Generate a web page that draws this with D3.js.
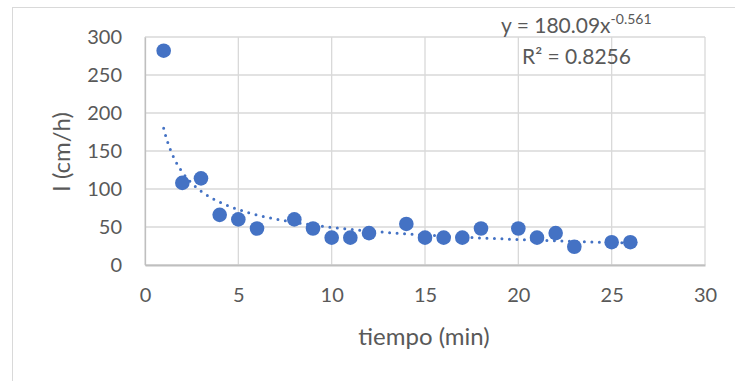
<html>
<head>
<meta charset="UTF-8">
<script src="https://d3js.org/d3.v7.min.js"></script>
<style>
  body { margin: 0; background: #fff; }
  text { font-family: Lato, "Open Sans", sans-serif; fill: #595959; }
</style>
</head>
<body>
<svg width="735" height="381"></svg>
<script>
// datos
var tiempo = [1, 2, 3, 4, 5, 6, 8, 9, 10, 11, 12, 14, 15, 16, 17, 18, 20, 21, 22, 23, 25, 26];
var infil  = [282, 108, 114, 66, 60, 48, 60, 48, 36, 36, 42, 54, 36, 36, 36, 48, 48, 36, 42, 24, 30, 30];
var xTicks = [0, 5, 10, 15, 20, 25, 30];
var yTicks = [0, 50, 100, 150, 200, 250, 300];
var coefA = 180.09, coefB = -0.561;

var svg = d3.select("svg");

// borde del área del gráfico
svg.append("rect")
  .attr("x", 12.5).attr("y", 7.5)
  .attr("width", 740).attr("height", 400)
  .attr("fill", "none").attr("stroke", "#d9d9d9").attr("stroke-width", 1);

var x = d3.scaleLinear().domain([0, 30]).range([145, 705]);
var y = d3.scaleLinear().domain([0, 300]).range([265, 37]);

// rejilla
svg.append("g").selectAll("line").data(yTicks).enter().append("line")
  .attr("x1", x(0)).attr("x2", x(30))
  .attr("y1", function(d){ return y(d); }).attr("y2", function(d){ return y(d); })
  .attr("stroke", "#d9d9d9").attr("stroke-width", 1.3);
svg.append("g").selectAll("line").data(xTicks).enter().append("line")
  .attr("y1", y(0)).attr("y2", y(300))
  .attr("x1", function(d){ return x(d); }).attr("x2", function(d){ return x(d); })
  .attr("stroke", "#d9d9d9").attr("stroke-width", 1.3);

// ejes
var xAxis = d3.axisBottom(x).tickValues(xTicks).tickSize(0).tickPadding(23);
var yAxis = d3.axisLeft(y).tickValues(yTicks).tickSize(0).tickPadding(23);
var gx = svg.append("g").attr("transform", "translate(0," + y(0) + ")").call(xAxis);
var gy = svg.append("g").attr("transform", "translate(" + x(0) + ",0)").call(yAxis);
gx.select(".domain").attr("stroke", "#bfbfbf").attr("stroke-width", 2);
gy.select(".domain").attr("stroke", "#bfbfbf").attr("stroke-width", 1.3);
svg.selectAll(".tick text").attr("font-size", 20).style("font-family", "Lato, sans-serif").attr("fill", "#595959");

// títulos
svg.append("text").attr("x", 424).attr("y", 345).attr("text-anchor", "middle")
  .attr("font-size", 24).text("tiempo (min)");
svg.append("text").attr("transform", "translate(70,152) rotate(-90)").attr("text-anchor", "middle")
  .attr("font-size", 24).text("I (cm/h)");

// línea de tendencia potencial
var trend = d3.range(1, 26.01, 0.1).map(function(t){ return [t, coefA * Math.pow(t, coefB)]; });
svg.append("path")
  .datum(trend)
  .attr("d", d3.line().x(function(d){ return x(d[0]); }).y(function(d){ return y(d[1]); }))
  .attr("fill", "none").attr("stroke", "#4472c4").attr("stroke-width", 3)
  .attr("stroke-linecap", "round").attr("stroke-dasharray", "0 7.5");

// puntos
svg.append("g").selectAll("circle").data(tiempo).enter().append("circle")
  .attr("cx", function(d){ return x(d); })
  .attr("cy", function(d, i){ return y(infil[i]); })
  .attr("r", 7.3)
  .attr("fill", "#4472c4");

// ecuación
var eq = svg.append("text").attr("x", 501).attr("y", 33).attr("font-size", 21);
eq.append("tspan").text("y = 180.09x");
eq.append("tspan").attr("dy", -9).attr("font-size", 14).text("-0.561");
svg.append("text").attr("x", 522).attr("y", 64).attr("font-size", 21).text("R² = 0.8256");
</script>
</body>
</html>
